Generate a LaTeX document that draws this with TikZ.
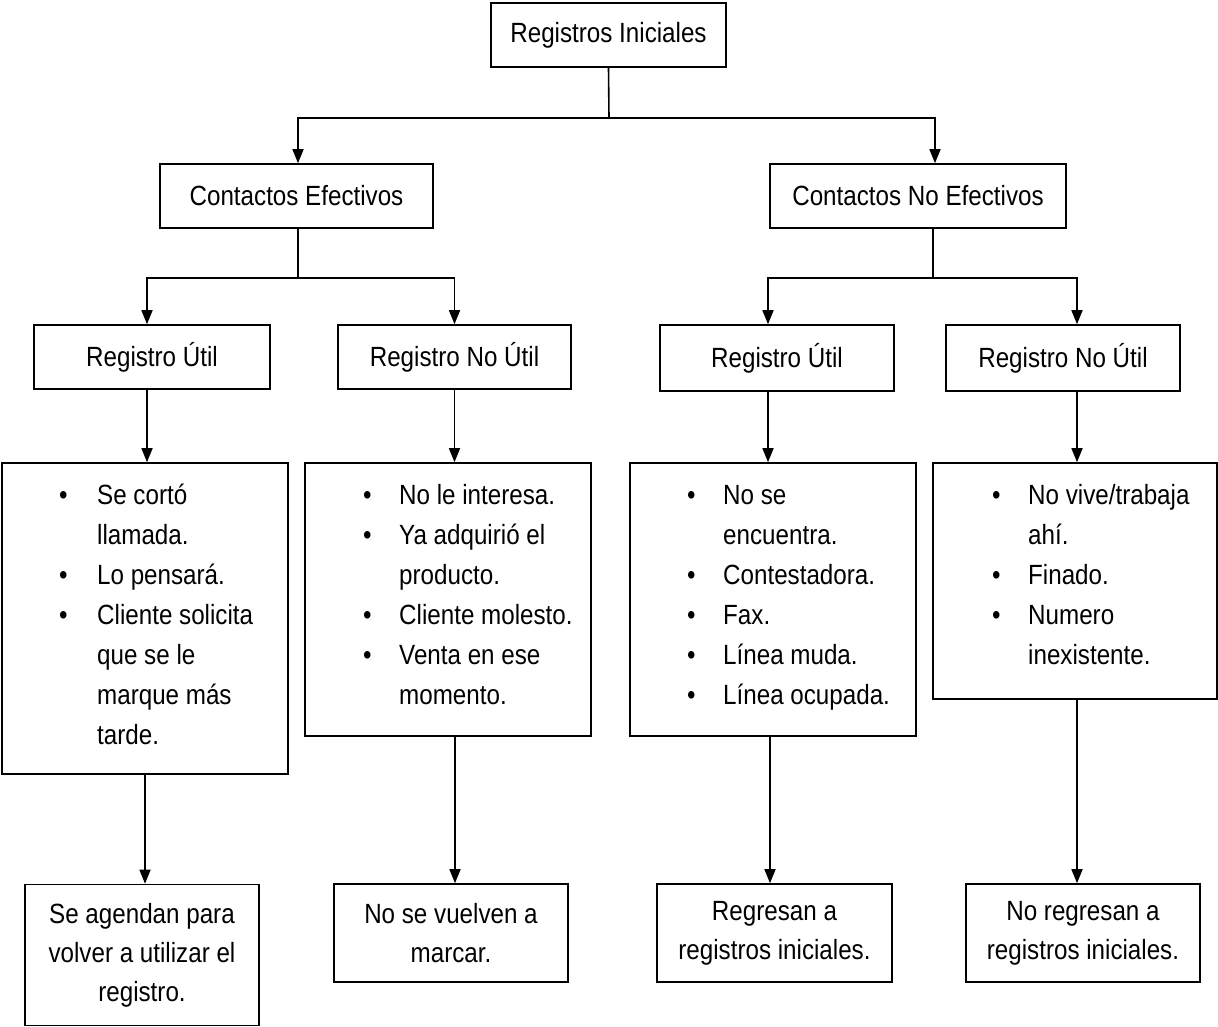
\documentclass[tikz,border=0pt]{standalone}
\usepackage{fontspec}
\setmainfont{Liberation Sans}[FakeStretch=0.87]
\usetikzlibrary{arrows.meta}
\begin{document}
\begin{tikzpicture}[x=1pt,y=-1pt,
  box/.style={draw, line width=1.6pt, inner sep=0pt, font=\fontsize{27.8}{39}\selectfont, align=center},
  conn/.style={line width=1.6pt},
  arr/.style={conn, -{Triangle[width=11pt,length=14pt]}},
  lst/.style={anchor=north west, inner sep=0pt, font=\fontsize{27.8}{40}\selectfont, align=left}]
\useasboundingbox (0,0) rectangle (1218,1027);
% level 0
\node[box, minimum width=235pt, minimum height=64pt] (top) at (608.5,35) {Registros Iniciales};
% level 1
\node[box, minimum width=273pt, minimum height=64pt] (ce) at (296.5,196) {Contactos Efectivos};
\node[box, minimum width=296pt, minimum height=64pt] (cne) at (918,196) {Contactos No Efectivos};
% level 2
\node[box, minimum width=236pt, minimum height=64pt] (ru1) at (152,357) {Registro Útil};
\node[box, minimum width=233pt, minimum height=64pt] (rn1) at (454.5,357) {Registro No Útil};
\node[box, minimum width=234pt, minimum height=66pt] (ru2) at (777,358) {Registro Útil};
\node[box, minimum width=234pt, minimum height=66pt] (rn2) at (1063,358) {Registro No Útil};
% level 3 boxes
\node[box, minimum width=286pt, minimum height=311pt] (b1) at (145,618.5) {};
\node[box, minimum width=286pt, minimum height=273pt] (b2) at (448,599.5) {};
\node[box, minimum width=286pt, minimum height=273pt] (b3) at (773,599.5) {};
\node[box, minimum width=284pt, minimum height=236pt] (b4) at (1075,581) {};
% lists
\node[lst] (l1) at (59,476) {\begin{tabular}{@{}p{38pt}@{}l@{}}
\textbullet & Se cortó\\ & llamada.\\ \textbullet & Lo pensará.\\ \textbullet & Cliente solicita\\ & que se le\\ & marque más\\ & tarde.\end{tabular}};
\node[lst] (l2) at (363,476) {\begin{tabular}{@{}p{36pt}@{}l@{}}
\textbullet & No le interesa.\\ \textbullet & Ya adquirió el\\ & producto.\\ \textbullet & Cliente molesto.\\ \textbullet & Venta en ese\\ & momento.\end{tabular}};
\node[lst] (l3) at (687,476) {\begin{tabular}{@{}p{36pt}@{}l@{}}
\textbullet & No se\\ & encuentra.\\ \textbullet & Contestadora.\\ \textbullet & Fax.\\ \textbullet & Línea muda.\\ \textbullet & Línea ocupada.\end{tabular}};
\node[lst] (l4) at (992,476) {\begin{tabular}{@{}p{36pt}@{}l@{}}
\textbullet & No vive/trabaja\\ & ahí.\\ \textbullet & Finado.\\ \textbullet & Numero\\ & inexistente.\end{tabular}};
% level 4
\node[box, minimum width=234pt, minimum height=141pt] (f1) at (142,955) {Se agendan para\\volver a utilizar el\\registro.};
\node[box, minimum width=234pt, minimum height=98pt] (f2) at (451,933) {No se vuelven a\\marcar.};
\node[box, minimum width=235pt, minimum height=98pt] (f3) at (774.5,933) {Regresan a\\registros iniciales.};
\node[box, minimum width=234pt, minimum height=98pt] (f4) at (1083,933) {No regresan a\\registros iniciales.};
% connectors level 0 -> 1
\coordinate (j0) at (609,118);
\draw[conn] (top.south) -- (j0);
\draw[arr] (j0) -| ([xshift=1.5pt]ce.north);
\draw[arr] (j0) -| ([xshift=17pt]cne.north);
% level 1 -> 2
\coordinate (j1) at (298,278);
\draw[conn] ([xshift=1.5pt]ce.south) -- (j1);
\draw[arr] (j1) -| ([xshift=-5pt]ru1.north);
\draw[arr] (j1) -| (rn1.north);
\coordinate (j2) at (933,278);
\draw[conn] ([xshift=15pt]cne.south) -- (j2);
\draw[arr] (j2) -| ([xshift=-9pt]ru2.north);
\draw[arr] (j2) -| ([xshift=14pt]rn2.north);
% level 2 -> 3
\draw[arr] ([xshift=-5pt]ru1.south) -- ([xshift=-5pt]ru1.south |- b1.north);
\draw[arr] (rn1.south) -- (rn1.south |- b2.north);
\draw[arr] ([xshift=-9pt]ru2.south) -- ([xshift=-9pt]ru2.south |- b3.north);
\draw[arr] ([xshift=14pt]rn2.south) -- ([xshift=14pt]rn2.south |- b4.north);
% level 3 -> 4
\draw[arr] (b1.south) -- (b1.south |- f1.north);
\draw[arr] ([xshift=7pt]b2.south) -- ([xshift=7pt]b2.south |- f2.north);
\draw[arr] ([xshift=-3pt]b3.south) -- ([xshift=-3pt]b3.south |- f3.north);
\draw[arr] ([xshift=2pt]b4.south) -- ([xshift=2pt]b4.south |- f4.north);
\end{tikzpicture}
\end{document}
